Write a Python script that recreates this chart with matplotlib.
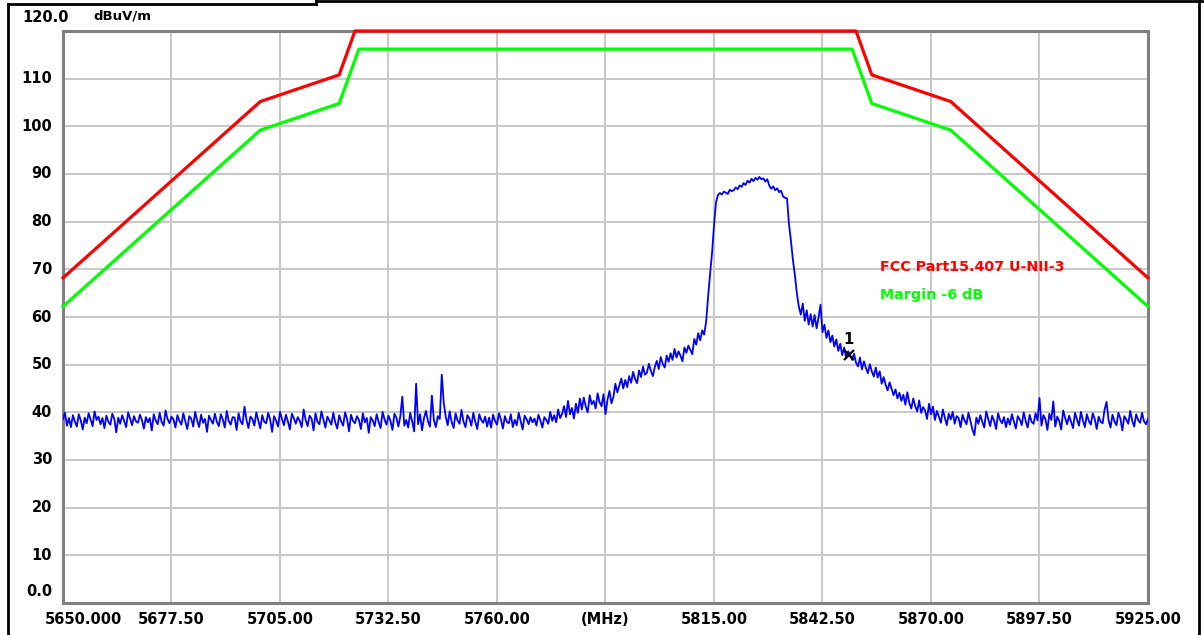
import numpy as np
import matplotlib
matplotlib.use('Agg')
import matplotlib.pyplot as plt
from matplotlib.lines import Line2D

# sweep 5650 .. 5925 MHz, 0.5 MHz per point
freq_start = 5650.0
freq_stop = 5925.0
freq_step = 0.5

level_rows = [
    [38.6, 39.9, 37.2, 38.8, 36.9, 39.4, 38.1, 37.0, 39.6, 38.3, 36.4, 38.9, 37.7, 39.8, 38.5, 37.1, 40.2, 38.4, 39.1, 37.5],
    [38.8, 36.7, 39.3, 38.0, 37.4, 39.7, 38.6, 35.8, 38.9, 37.6, 39.4, 38.2, 36.9, 40.0, 38.7, 37.3, 39.2, 38.1, 37.8, 39.5],
    [38.4, 36.6, 39.0, 37.9, 38.8, 36.2, 39.6, 38.3, 37.5, 39.9, 38.0, 37.2, 40.4, 38.6, 37.7, 39.1, 38.5, 36.8, 39.4, 38.2],
    [37.4, 39.8, 38.1, 36.5, 39.2, 38.7, 37.0, 40.1, 38.3, 36.9, 39.5, 37.8, 38.6, 35.9, 39.3, 38.4, 37.6, 39.7, 38.0, 37.1],
    [39.6, 38.5, 36.8, 40.3, 38.2, 37.4, 39.0, 38.9, 36.3, 39.8, 38.1, 37.5, 41.2, 38.4, 36.7, 39.1, 38.6, 37.2, 40.0, 38.3],
    [36.6, 39.4, 38.0, 37.7, 39.9, 38.5, 35.9, 39.2, 38.3, 37.0, 40.1, 38.6, 37.3, 39.5, 38.1, 36.4, 39.7, 38.8, 37.6, 39.0],
    [38.2, 36.9, 40.6, 38.4, 37.1, 39.3, 38.7, 36.2, 39.8, 38.0, 37.5, 40.2, 38.5, 36.8, 39.1, 38.3, 37.4, 39.9, 37.9, 36.6],
    [39.4, 38.1, 37.2, 40.0, 38.6, 36.0, 39.5, 38.2, 37.7, 39.2, 38.4, 36.5, 39.8, 37.9, 38.8, 35.7, 39.0, 38.3, 37.1, 39.6],
    [38.0, 36.7, 40.1, 38.5, 37.4, 39.3, 38.2, 36.3, 39.7, 38.9, 37.0, 39.2, 43.3, 37.2, 38.4, 36.8, 39.9, 38.1, 36.0, 46.0],
    [37.5, 39.6, 36.2, 38.8, 40.3, 38.1, 37.0, 43.5, 38.4, 36.9, 39.2, 38.6, 47.9, 42.0, 39.1, 37.3, 40.2, 38.0, 36.7, 39.8],
    [38.3, 37.6, 40.5, 38.1, 36.9, 39.4, 38.7, 37.2, 39.9, 38.0, 36.5, 39.6, 38.4, 37.8, 39.1, 37.0, 38.9, 36.8, 39.5, 38.2],
    [37.4, 39.8, 38.5, 36.6, 39.2, 38.0, 37.7, 39.6, 36.9, 38.4, 37.3, 39.9, 38.1, 36.4, 39.3, 38.6, 37.5, 39.0, 37.9, 38.7],
    [37.2, 39.5, 38.3, 36.8, 39.0, 38.4, 37.6, 40.1, 38.2, 39.4, 37.9, 40.6, 38.8, 39.7, 41.3, 39.0, 42.4, 39.6, 40.9, 38.7],
    [41.8, 39.9, 42.9, 40.6, 43.1, 41.2, 40.0, 43.6, 41.7, 42.4, 40.8, 44.0, 42.1, 41.3, 43.8, 39.6, 42.6, 44.5, 41.9, 43.2],
    [46.0, 44.2, 45.6, 47.1, 45.0, 46.8, 45.3, 47.6, 46.2, 48.5, 47.0, 46.1, 48.8, 47.4, 49.6, 47.9, 48.3, 50.2, 48.7, 47.6],
    [49.5, 50.8, 49.1, 51.6, 50.2, 49.4, 51.9, 50.6, 52.4, 51.0, 53.3, 51.5, 52.8, 51.9, 50.7, 53.6, 52.5, 54.0, 53.1, 52.2],
    [55.4, 54.2, 56.6, 55.1, 57.2, 56.3, 59.0, 64.2, 69.0, 73.4, 79.2, 84.0, 85.6, 86.0, 85.7, 86.3, 86.1, 85.8, 86.7, 86.4],
    [86.6, 87.2, 86.8, 87.6, 87.3, 88.1, 87.7, 88.6, 88.2, 89.0, 88.5, 89.2, 88.8, 89.4, 88.9, 89.1, 88.4, 88.9, 87.6, 86.9],
    [87.4, 86.6, 87.0, 86.2, 86.5, 85.3, 85.0, 84.9, 79.5, 76.0, 72.0, 68.8, 65.0, 62.2, 60.5, 62.8, 59.2, 61.4, 58.4, 60.6],
    [58.0, 60.4, 57.6, 59.9, 62.6, 56.8, 58.4, 55.6, 57.2, 54.7, 56.1, 53.8, 55.3, 52.9, 54.4, 52.0, 53.6, 51.4, 52.8, 52.1],
    [51.0, 52.3, 50.4, 49.6, 51.5, 49.0, 50.7, 49.3, 48.2, 50.1, 48.6, 47.5, 49.4, 47.3, 48.6, 46.0, 47.4, 45.8, 44.6, 46.3],
    [45.0, 43.6, 44.8, 42.9, 44.1, 42.4, 43.7, 41.6, 44.2, 42.0, 40.8, 42.9, 41.3, 40.2, 42.5, 39.9, 41.1, 40.4, 38.6, 41.8],
    [39.6, 41.2, 38.4, 40.3, 39.1, 37.8, 40.6, 38.9, 37.3, 39.7, 38.5, 40.1, 37.6, 39.2, 38.8, 36.9, 39.5, 38.3, 37.5, 39.9],
    [38.1, 36.4, 35.2, 38.9, 37.6, 39.4, 38.0, 36.8, 40.2, 38.6, 37.1, 39.3, 38.2, 36.5, 39.8, 38.4, 37.7, 39.0, 36.9, 38.7],
    [37.4, 39.6, 38.1, 36.6, 39.2, 38.5, 37.3, 40.0, 38.2, 36.8, 39.5, 38.0, 37.6, 39.8, 38.3, 43.0, 37.2, 39.4, 38.6, 36.3],
    [39.7, 38.4, 42.3, 37.0, 39.1, 38.2, 36.4, 40.4, 38.8, 37.5, 39.3, 38.0, 36.7, 39.9, 38.5, 37.2, 40.1, 38.3, 36.9, 39.6],
    [38.2, 37.4, 39.8, 38.6, 36.5, 39.1, 38.0, 37.7, 40.6, 42.2, 38.4, 36.8, 39.5, 38.1, 37.3, 39.9, 38.7, 36.2, 39.2, 38.5],
    [37.6, 40.3, 38.2, 37.0, 39.6, 38.4, 37.8, 39.9, 38.1, 37.5, 38.6],
]

# FCC limit and -6 dB margin (drawn as on the plot, capped at top of scale)
limit_freq = [5650, 5700, 5720, 5724, 5851, 5855, 5875, 5925]
limit_level = [68.2, 105.2, 110.8, 120.0, 120.0, 110.8, 105.2, 68.2]
margin_freq = [5650, 5700, 5720, 5725, 5850, 5855, 5875, 5925]
margin_level = [62.2, 99.2, 104.8, 116.2, 116.2, 104.8, 99.2, 62.2]

marker_freq = 5849.2
marker_level = 52.1

x_ticks = [5650, 5677.5, 5705, 5732.5, 5760, 5787.5, 5815, 5842.5, 5870, 5897.5, 5925]
x_labels = ['5650.000', '5677.50', '5705.00', '5732.50', '5760.00', '(MHz)',
            '5815.00', '5842.50', '5870.00', '5897.50', '5925.00']
y_ticks = [10, 20, 30, 40, 50, 60, 70, 80, 90, 100, 110]
y_labels = ['10', '20', '30', '40', '50', '60', '70', '80', '90', '100', '110']

level = np.concatenate([np.array(r) for r in level_rows])
freq = freq_start + freq_step * np.arange(len(level))

W, H = 1204, 635
AW, AH = 1148 - 63, 603 - 31
fig = plt.figure(figsize=(W / 100, H / 100), dpi=100)
fig.patch.set_facecolor('white')
ax = fig.add_axes([63 / W, 1 - 603 / H, AW / W, AH / H])

ax.set_xlim(freq_start, freq_stop)
ax.set_ylim(0, 120)
ax.set_xticks(x_ticks)
ax.set_yticks(y_ticks)
ax.set_xticklabels([])
ax.set_yticklabels([])
ax.tick_params(length=0)
ax.grid(True, color='#c8c8c8', linewidth=1.4)
ax.set_axisbelow(True)
for s in ax.spines.values():
    s.set_color('#808080')
    s.set_linewidth(2.2)

tfont = dict(fontsize=10.5, fontweight='bold', color='black', family='DejaVu Sans')

# x labels
for xv, lab in zip(x_ticks, x_labels):
    xa = (xv - freq_start) / (freq_stop - freq_start)
    if lab == '5650.000':
        xa = 20 / AW
    ax.text(xa, -17 / AH, lab, transform=ax.transAxes, ha='center', va='center', **tfont)

# y labels
for yv, lab in zip(y_ticks, y_labels):
    ax.text(-11 / AW, yv / 120, lab, transform=ax.transAxes, ha='right', va='center', **tfont)
ax.text(-11 / AW, 11 / AH, '0.0', transform=ax.transAxes, ha='right', va='center', **tfont)
ax.text(-41 / AW, 1 + 14 / AH, '120.0', transform=ax.transAxes, ha='left', va='center', **tfont)
ax.text(30 / AW, 1 + 15 / AH, 'dBuV/m', transform=ax.transAxes, ha='left', va='center',
        fontsize=9.5, fontweight='bold', family='DejaVu Sans')

ax.plot(freq, level, color='#0000ff', linewidth=1.3, zorder=3)
ax.plot(margin_freq, margin_level, color='#00ff00', linewidth=2.3, zorder=4, clip_on=False)
ax.plot(limit_freq, limit_level, color='#ff0000', linewidth=2.3, zorder=4, clip_on=False)

ax.text(5857.0, 70.4, 'FCC Part15.407 U-NII-3', color='#ff0000', ha='left', va='center',
        fontsize=10.3, fontweight='bold', family='DejaVu Sans')
ax.text(5857.0, 64.6, 'Margin -6 dB', color='#00ff00', ha='left', va='center',
        fontsize=10.3, fontweight='bold', family='DejaVu Sans')

ax.plot([marker_freq], [marker_level], marker='x', color='black', markersize=7, mew=1.6, zorder=5)
ax.text(marker_freq, marker_level + 1.6, '1', ha='center', va='bottom',
        fontsize=10.5, fontweight='bold', family='DejaVu Sans')

# outer frame lines of the report cell
def px_line(x0, y0, x1, y1):
    fig.add_artist(Line2D([x0 / W, x1 / W], [1 - y0 / H, 1 - y1 / H], color='black', linewidth=2))

px_line(8, 4, 8, H)
px_line(8, 4, 316, 4)
px_line(316, 0, 316, 4)
px_line(316, 1, 1204, 1)
px_line(1199, 1, 1199, H)

fig.savefig('out.png', dpi=100, facecolor='white')
